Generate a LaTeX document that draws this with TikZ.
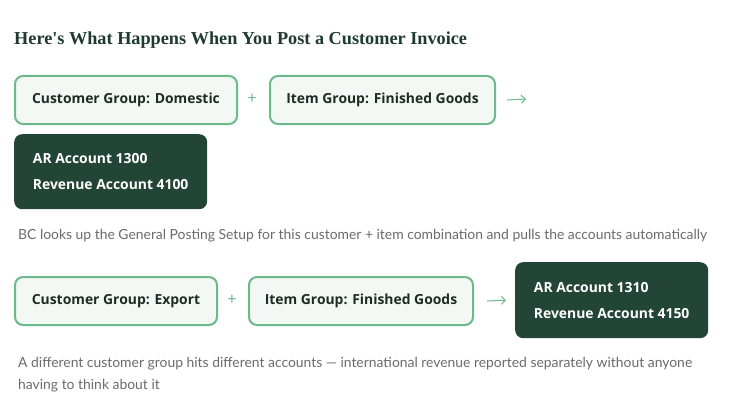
\documentclass[tikz,border=0pt]{standalone}
\usepackage{fontspec}
\setmainfont{Lato}
\newfontfamily\titlefont{Liberation Serif}
\newfontfamily\boxfont{Open Sans}
\usetikzlibrary{arrows.meta}
\definecolor{gborder}{HTML}{6DB98B}
\definecolor{gfill}{HTML}{F3F8F4}
\definecolor{darkg}{HTML}{234536}
\definecolor{titlec}{HTML}{1F3B30}
\definecolor{bodyc}{HTML}{6B6B6B}
\definecolor{textc}{HTML}{1E2B26}
\begin{document}
\begin{tikzpicture}[x=1pt,y=-1pt,
  gbox/.style={draw=gborder, fill=gfill, line width=2pt, rounded corners=8pt,
    minimum height=48pt, anchor=north west, inner sep=0pt,
    font=\boxfont\fontsize{13.9}{16}\selectfont\bfseries, text=textc},
  dbox/.style={fill=darkg, rounded corners=8pt, anchor=north west,
    inner xsep=0pt, inner ysep=0pt, align=left, text=white,
    font=\boxfont\fontsize{13.9}{26}\selectfont\bfseries},
  optxt/.style={text=gborder, font=\fontsize{16}{18}\selectfont},
  body/.style={anchor=west, inner sep=0pt, text=bodyc, font=\fontsize{13.9}{22}\selectfont},
  flow/.style={draw=gborder, line width=1pt, -{Straight Barb[length=4pt,width=8pt]}}]
\fill[white] (0,0) rectangle (735,409);
\node[anchor=west, inner sep=0pt, text=titlec,
  font=\titlefont\fontsize{18.25}{20}\selectfont\bfseries] (title) at (14,40)
  {Here's What Happens When You Post a Customer Invoice};
% row 1
\node[gbox, minimum width=222pt] (a) at (14,75) {Customer Group: Domestic};
\node[optxt] (p1) at (252,99) {+};
\node[gbox, minimum width=225pt] (b) at (269,75) {Item Group: Finished Goods};
\coordinate (r1end) at (526,99);
\draw[flow] ([xshift=11pt]b.east) -- (r1end);
\node[dbox, minimum width=193pt, minimum height=75pt] (c) at (14,134)
  {AR Account 1300\\Revenue Account 4100};
\node[body] (t1) at (18,236) {BC looks up the General Posting Setup for this customer + item combination and pulls the accounts automatically};
% row 2
\node[gbox, minimum width=202pt] (d) at (14,276) {Customer Group: Export};
\node[optxt] (p2) at (232,300) {+};
\node[gbox, minimum width=224pt] (e) at (248,276) {Item Group: Finished Goods};
\node[dbox, minimum width=193pt, minimum height=76pt] (f) at (515,262)
  {AR Account 1310\\Revenue Account 4150};
\draw[flow] ([xshift=13pt]e.east) -- ([xshift=-9pt]f.west);
\node[body, anchor=west, align=left] (t2) at (18,364)
  {A different customer group hits different accounts — international revenue reported separately without anyone};
\node[body, anchor=west, align=left] (t3) at (18,386) {having to think about it};
\end{tikzpicture}
\end{document}
